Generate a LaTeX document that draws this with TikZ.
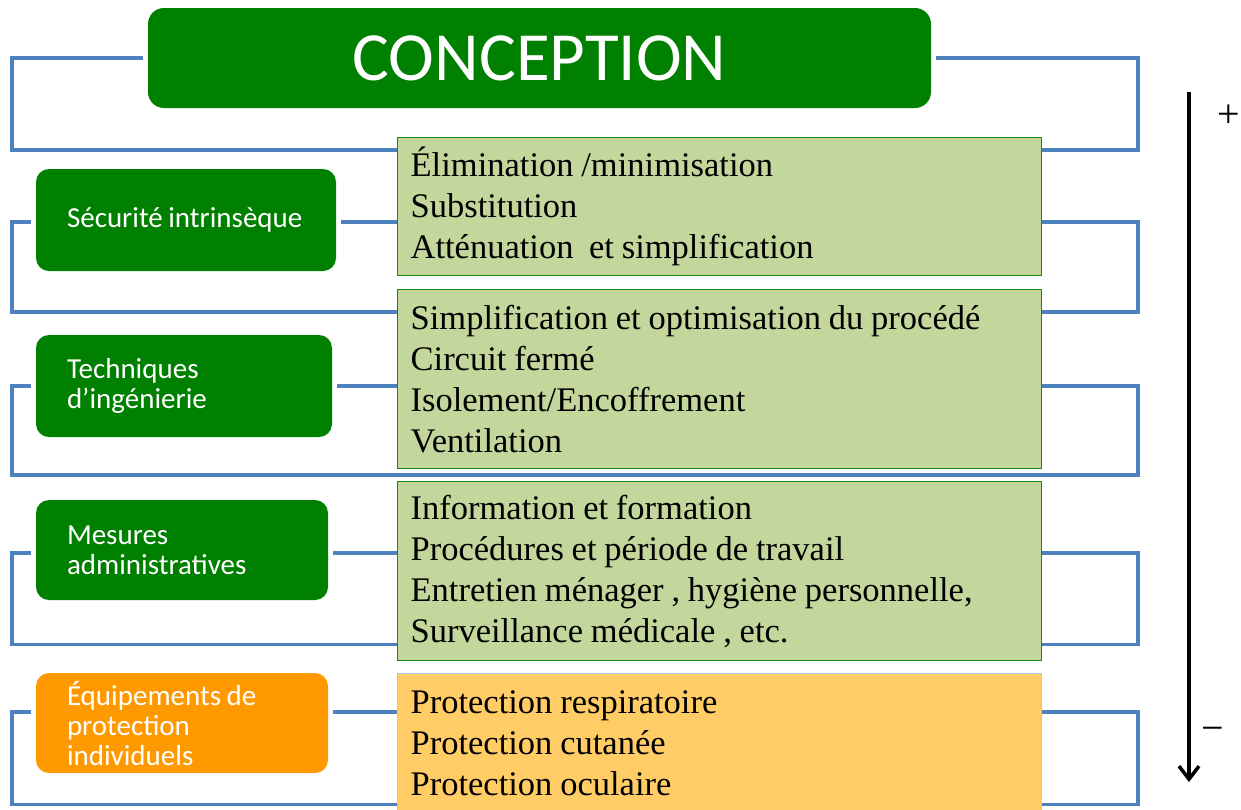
\documentclass[tikz,border=0pt]{standalone}
\usepackage{fontspec}
\setmainfont{Liberation Serif}
\newfontfamily\calibri{Carlito}
\usetikzlibrary{calc,arrows.meta}
\definecolor{hdrgreen}{RGB}{0,128,0}
\definecolor{connblue}{RGB}{79,129,189}
\definecolor{lightgreen}{RGB}{195,214,155}
\definecolor{boxgreen}{RGB}{20,140,20}
\definecolor{btnorange}{RGB}{255,153,0}
\definecolor{lightorange}{RGB}{255,204,102}
\definecolor{paleblue}{RGB}{165,205,230}
\newcommand\mybtnspace{\spaceskip=5.5pt plus 1pt minus 1pt\relax}
\newcommand\mytxtspace{\spaceskip=7.8pt plus 2pt minus 1pt\relax}
\begin{document}
\begin{tikzpicture}[x=1pt,y=-1pt,
  hdr/.style={rectangle, rounded corners=16pt, fill=hdrgreen, text=white,
    font=\calibri\fontsize{69}{80}\selectfont, minimum width=783pt, minimum height=100pt, inner sep=0pt},
  btn/.style={rectangle, rounded corners=13pt, fill=hdrgreen, text=white,
    font=\calibri\fontsize{29}{30}\selectfont, execute at begin node=\mybtnspace,
    align=left, inner xsep=31pt, inner ysep=0pt},
  tbox/.style={rectangle, anchor=north west, fill=lightgreen, draw=boxgreen, line width=1.3pt,
    font=\fontsize{34.5}{41}\selectfont, execute at begin node=\mytxtspace,
    align=left, text width=618pt, inner xsep=13pt, inner ysep=0pt, minimum width=644pt},
  conn/.style={draw=connblue, line width=3.5pt},
  sign/.style={font=\fontsize{40}{44}\selectfont, inner sep=0pt}
]
\useasboundingbox (0,0) rectangle (1241,809);

% header
\node[hdr] (concept) at (539.5,58) {CONCEPTION};

% left buttons
\node[btn, text width=238pt, minimum height=102pt] (sec) at (186,220) {\mbox{Sécurité intrinsèque}};
\node[btn, text width=234pt, minimum height=102pt] (tech) at (184,386) {Techniques\\\mbox{d’ingénierie}};
\node[btn, text width=230pt, minimum height=100pt] (adm) at (182,550) {Mesures\\\mbox{administratives}};
\node[btn, fill=btnorange, text width=230pt, minimum height=100pt] (epi) at (182,723) {\mbox{Équipements de}\\protection\\individuels};

% right text boxes
\node[tbox, minimum height=138pt] (l1) at (397,137) {Élimination /minimisation\\Substitution\\Atténuation\ \ et simplification};
\node[tbox, minimum height=179pt] (l2) at (397,289) {Simplification et optimisation du procédé\\Circuit fermé\\Isolement/Encoffrement\\Ventilation};
\node[tbox, minimum height=179pt] (l3) at (397,481) {Information et formation\\Procédures et période de travail\\Entretien ménager , hygiène personnelle,\\Surveillance médicale , etc.};
\node[tbox, fill=lightorange, draw=paleblue, minimum height=139pt] (l4) at (397,673) {Protection respiratoire\\Protection cutanée\\Protection oculaire};

% helper coordinates
\coordinate (railL) at (12,0);
\coordinate (railR) at (1138,0);
\coordinate (gap23) at ($(l2.south)!0.5!(l3.north)$);
\path ([shift={(-5pt,-2pt)}]sec.west) coordinate (s1L)
      ([shift={(5pt,-2pt)}]sec.east) coordinate (s1R)
      ([shift={(-5pt,0pt)}]tech.west) coordinate (s2L)
      ([shift={(5pt,0pt)}]tech.east) coordinate (s2R)
      ([shift={(-5pt,-3pt)}]adm.west) coordinate (s3L)
      ([shift={(5pt,-3pt)}]adm.east) coordinate (s3R)
      ([shift={(-5pt,11pt)}]epi.west) coordinate (s4L)
      ([shift={(5pt,11pt)}]epi.east) coordinate (s4R);

% connectors: header
\draw[conn] ([xshift=-5pt]concept.west) -- (railL |- concept.west) |- ($(l1.north west)+(0,13)$);
\draw[conn] ([xshift=5pt]concept.east) -- (railR |- concept.east) |- ($(l1.north east)+(0,13)$);
% row 1
\draw[conn] (s1L) -- (railL |- s1L) |- ($(l2.north west)+(0,23)$);
\draw[conn] (s1R) -- (l1.west |- s1R);
\draw[conn] (l1.east |- s1R) -- (railR |- s1R) |- ($(l2.north east)+(0,23)$);
% row 2
\draw[conn] (s2L) -- (railL |- s2L) |- (railR |- gap23) |- (l2.east |- s2L);
\draw[conn] (s2R) -- (l2.west |- s2R);
% row 3
\draw[conn] (s3L) -- (railL |- s3L) |- ($(l3.south west)+(0,-17)$);
\draw[conn] (s3R) -- (l3.west |- s3R);
\draw[conn] (l3.east |- s3R) -- (railR |- s3R) |- ($(l3.south east)+(0,-17)$);
% row 4
\draw[conn] (s4L) -- (railL |- s4L) |- ($(l4.south west)+(0,-9)$);
\draw[conn] (s4R) -- (l4.west |- s4R);
\draw[conn] (l4.east |- s4R) -- (railR |- s4R) |- ($(l4.south east)+(0,-9)$);

% priority arrow
\coordinate (arrTop) at (1189,92);
\coordinate (arrBot) at (1189,782);
\draw[line width=3.5pt, -{Straight Barb[length=13pt,width=20pt]}] (arrTop) -- (arrBot);
\node[sign] (plus) at (1229,116) {+};
\node[sign] (minus) at (1213,734) {−};
\end{tikzpicture}
\end{document}
